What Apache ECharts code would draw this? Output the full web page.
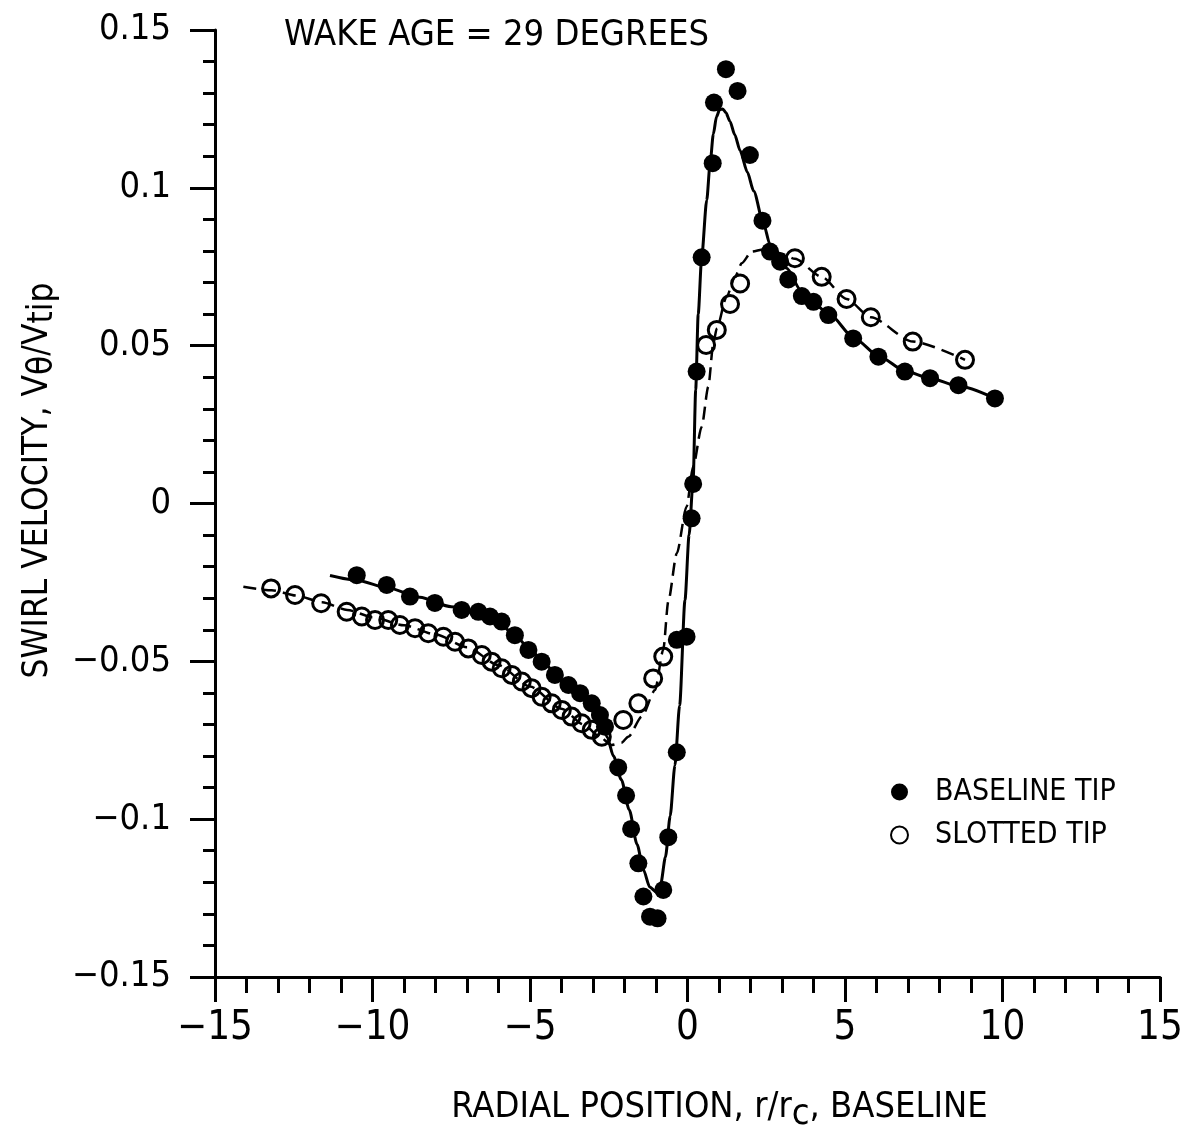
<!DOCTYPE html>
<html>
<head>
<meta charset="utf-8">
<script src="https://cdn.jsdelivr.net/npm/echarts@6/dist/echarts.min.js"></script>
<style>
html,body{margin:0;padding:0;background:#fff;}
#chart{width:1180px;height:1136px;}
</style>
</head>
<body>
<div id="chart"></div>
<script>
// ---- data ----
const baselineX = [-10.5,-9.55,-8.81,-8.02,-7.17,-6.64,-6.27,-5.90,-5.48,-5.05,-4.63,-4.21,-3.78,-3.41,-3.04,-2.78,-2.62,-2.20,-1.95,-1.79,-1.56,-1.40,-1.19,-0.95,-0.77,-0.61,-0.34,-0.34,-0.03,0.13,0.18,0.29,0.45,0.80,0.84,1.22,1.59,1.98,2.38,2.62,2.94,3.20,3.63,4.00,4.47,5.26,6.06,6.90,7.70,8.60,9.76];
const baselineY = [-0.0227,-0.0258,-0.0295,-0.0315,-0.0337,-0.0343,-0.0358,-0.0374,-0.0417,-0.0464,-0.0501,-0.0543,-0.0575,-0.0601,-0.0633,-0.0670,-0.0707,-0.0836,-0.0925,-0.1031,-0.1140,-0.1245,-0.1309,-0.1314,-0.1224,-0.1057,-0.0788,-0.0432,-0.0422,-0.0047,0.0062,0.0418,0.0780,0.1078,0.1270,0.1376,0.1307,0.1104,0.0896,0.0798,0.0766,0.0710,0.0657,0.0639,0.0597,0.0523,0.0465,0.0418,0.0397,0.0375,0.0333];

const slottedX = [-13.22,-12.46,-11.63,-10.82,-10.34,-9.92,-9.50,-9.13,-8.65,-8.23,-7.75,-7.38,-6.96,-6.53,-6.22,-5.90,-5.58,-5.26,-4.95,-4.63,-4.31,-3.99,-3.68,-3.36,-3.04,-2.72,-2.04,-1.56,-1.09,-0.77,0.59,0.93,1.35,1.67,3.41,4.26,5.05,5.82,7.15,8.81];
const slottedY = [-0.0269,-0.0290,-0.0316,-0.0343,-0.0358,-0.0369,-0.0369,-0.0385,-0.0395,-0.0411,-0.0422,-0.0438,-0.0459,-0.0480,-0.0501,-0.0522,-0.0543,-0.0564,-0.0585,-0.0612,-0.0633,-0.0654,-0.0675,-0.0696,-0.0717,-0.0739,-0.0686,-0.0633,-0.0554,-0.0485,0.0502,0.0550,0.0632,0.0697,0.0777,0.0718,0.0648,0.0590,0.0513,0.0455];

const baselineFitX = [-11.35,-10.5,-9.5,-8.5,-7.5,-6.5,-6.0,-5.5,-5.0,-4.5,-4.0,-3.5,-3.0,-2.75,-2.55,-2.35,-2.1,-1.85,-1.6,-1.4,-1.2,-1.0,-0.85,-0.7,-0.55,-0.4,-0.25,-0.08,0.05,0.18,0.26,0.34,0.45,0.61,0.72,0.82,0.92,1.02,1.12,1.22,1.35,1.5,1.67,1.9,2.1,2.41,2.62,2.8,3.15,3.6,4.5,5.3,6.1,6.9,7.7,8.6,9.76];
const baselineFitY = [-0.0228,-0.0243,-0.0268,-0.0297,-0.0327,-0.0355,-0.0378,-0.0415,-0.0462,-0.0512,-0.0562,-0.0605,-0.0645,-0.0680,-0.0740,-0.0800,-0.0875,-0.0970,-0.1080,-0.1160,-0.1215,-0.1230,-0.1205,-0.1120,-0.0990,-0.0830,-0.0640,-0.0306,-0.0100,0.0075,0.0360,0.0600,0.0780,0.0961,0.1080,0.1170,0.1225,0.1248,0.1250,0.1238,0.1210,0.1168,0.1118,0.1050,0.0990,0.0888,0.0820,0.0785,0.0745,0.0675,0.0600,0.0523,0.0465,0.0420,0.0397,0.0372,0.0333];

const slottedFitX = [-14.1,-13.2,-12.4,-11.6,-10.8,-10.0,-9.0,-8.0,-7.0,-6.0,-5.0,-4.0,-3.3,-2.8,-2.41,-2.1,-1.88,-1.45,-1.03,-0.77,-0.61,-0.34,-0.03,0.18,0.45,0.66,0.82,0.93,1.24,1.51,1.72,2.04,2.41,2.94,3.41,4.26,5.05,5.82,7.15,8.81];
const slottedFitY = [-0.0264,-0.0275,-0.0292,-0.0313,-0.0337,-0.0360,-0.0386,-0.0415,-0.0455,-0.0512,-0.0580,-0.0650,-0.0700,-0.0738,-0.0765,-0.0758,-0.0739,-0.0675,-0.0591,-0.0464,-0.0310,-0.0158,-0.0010,0.0117,0.0243,0.0370,0.0507,0.0555,0.0655,0.0718,0.0761,0.0798,0.0805,0.0793,0.0775,0.0718,0.0648,0.0590,0.0513,0.0455];

const xTicks = [-15,-10,-5,0,5,10,15];
const xTickLabels = ['\u221215','\u221210','\u22125','0','5','10','15'];
const yTicks = [-0.15,-0.1,-0.05,0,0.05,0.1,0.15];
const yTickLabels = ['\u22120.15','\u22120.1','\u22120.05','0','0.05','0.1','0.15'];

const seriesNames = ['BASELINE TIP','SLOTTED TIP'];
const titleText = 'WAKE AGE = 29 DEGREES';

// ---- build ----
const zip = (a,b) => a.map((v,i) => [v,b[i]]);
const lookup = (ticks, labels) => v => {
  let best = 0;
  ticks.forEach((t,i) => { if (Math.abs(t - v) < Math.abs(ticks[best] - v)) best = i; });
  return labels[best];
};
const FONT = "'Liberation Sans Narrow','DejaVu Sans Condensed','Liberation Sans',sans-serif";

const chart = echarts.init(document.getElementById('chart'), null, {renderer:'canvas'});
chart.setOption({
  animation:false,
  backgroundColor:'#fff',
  title:{
    text:titleText, left:279, top:13,
    textStyle:{fontFamily:FONT, fontSize:36, fontWeight:'normal', color:'#000'}
  },
  grid:{left:215, right:20, top:30, bottom:159, containLabel:false, outerBoundsMode:'none'},
  legend:{
    data:seriesNames, orient:'vertical', left:885, top:772,
    itemWidth:17, itemHeight:17, itemGap:13,
    textStyle:{fontFamily:FONT, fontSize:30, color:'#000', padding:[0,0,0,22]}
  },
  xAxis:{
    type:'value', min:-15, max:15, interval:5,
    axisLine:{show:true, onZero:false, lineStyle:{color:'#000', width:3}},
    axisTick:{show:true, inside:false, length:25, lineStyle:{color:'#000', width:3}},
    minorTick:{show:true, splitNumber:5, length:16, lineStyle:{color:'#000', width:3}},
    splitLine:{show:false},
    axisLabel:{margin:32, color:'#000', fontFamily:FONT, fontSize:40, formatter:lookup(xTicks,xTickLabels)},
    name:'RADIAL POSITION, r/r{sub|c}, BASELINE',
    nameLocation:'middle', nameGap:106, nameMoveOverlap:false,
    nameTextStyle:{fontFamily:FONT, fontSize:36, color:'#000', padding:[0,0,0,64],
      rich:{sub:{fontFamily:FONT, fontSize:36, color:'#000', padding:[14,0,0,0]}}}
  },
  yAxis:{
    type:'value', min:-0.15, max:0.15, interval:0.05,
    axisLine:{show:true, onZero:false, lineStyle:{color:'#000', width:3}},
    axisTick:{show:true, inside:false, length:25, lineStyle:{color:'#000', width:3}},
    minorTick:{show:true, splitNumber:5, length:12, lineStyle:{color:'#000', width:3}},
    splitLine:{show:false},
    axisLabel:{margin:44, color:'#000', fontFamily:FONT, fontSize:36, formatter:lookup(yTicks,yTickLabels)},
    name:'SWIRL VELOCITY, V{sub|\u03b8}/V{sub|tip}',
    nameLocation:'middle', nameGap:155, nameRotate:90, nameMoveOverlap:false,
    nameTextStyle:{fontFamily:FONT, fontSize:35, color:'#000', padding:[0,0,0,46],
      rich:{sub:{fontFamily:FONT, fontSize:35, color:'#000', padding:[10,0,0,0]}}}
  },
  series:[
    {
      name:seriesNames[1], type:'scatter', data:zip(slottedX,slottedY),
      symbol:'circle', symbolSize:17, z:3,
      itemStyle:{color:'rgba(255,255,255,0)', borderColor:'#000', borderWidth:3, opacity:1}
    },
    {
      type:'line', data:zip(slottedFitX,slottedFitY), showSymbol:false, symbol:'none',
      smooth:0.25, smoothMonotone:'x', z:2,
      lineStyle:{color:'#000', width:2.5, type:[13,7]}
    },
    {
      type:'line', data:zip(baselineFitX,baselineFitY), showSymbol:false, symbol:'none',
      smooth:0.25, smoothMonotone:'x', z:2,
      lineStyle:{color:'#000', width:3}
    },
    {
      name:seriesNames[0], type:'scatter', data:zip(baselineX,baselineY),
      symbol:'circle', symbolSize:18, z:4,
      itemStyle:{color:'#000', opacity:1}
    }
  ]
});
</script>
</body>
</html>
